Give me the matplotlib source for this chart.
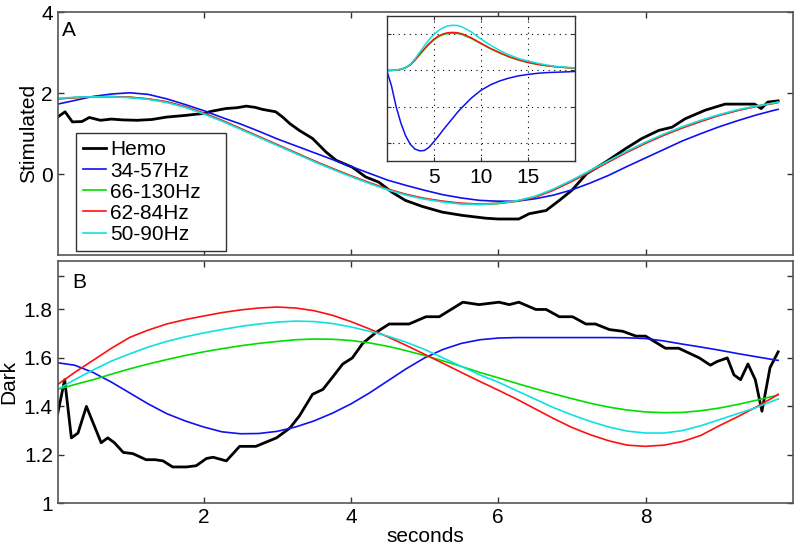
import matplotlib
matplotlib.use('Agg')
import matplotlib.pyplot as plt

plt.rcParams['font.family'] = ['Liberation Sans', 'DejaVu Sans']
plt.rcParams['font.size'] = 15

labels = ['Hemo', '34-57Hz', '66-130Hz', '62-84Hz', '50-90Hz']
colors = ['black', '#1010f0', '#00dd00', '#ff1010', '#10e0e0']

# model time grid (seconds)
t = [0.02, 0.25, 0.5, 0.75, 1.0, 1.25, 1.5, 1.75, 2.0, 2.25, 2.5, 2.75,
     3.0, 3.25, 3.5, 3.75, 4.0, 4.25, 4.5, 4.75, 5.0, 5.25, 5.5, 5.75,
     6.0, 6.25, 6.5, 6.75, 7.0, 7.25, 7.5, 7.75, 8.0, 8.25, 8.5, 8.75,
     9.0, 9.25, 9.5, 9.75, 9.8]

# panel A - stimulated
hemo_a_t = [0.02, 0.12, 0.22, 0.35, 0.45, 0.6, 0.75, 0.9, 1.1, 1.3, 1.5, 1.75,
            2.0, 2.1, 2.3, 2.45, 2.58, 2.7, 2.8, 2.98, 3.08, 3.17, 3.3, 3.48,
            3.66, 3.8, 4.02, 4.2, 4.38, 4.56, 4.74, 4.97, 5.24, 5.51, 5.83,
            6.0, 6.28, 6.42, 6.65, 6.83, 7.0, 7.2, 7.46, 7.73, 7.95, 8.18,
            8.36, 8.54, 8.81, 9.08, 9.35, 9.48, 9.57, 9.66, 9.8]
hemo_a = [1.41, 1.54, 1.29, 1.30, 1.40, 1.33, 1.36, 1.34, 1.33, 1.35, 1.41, 1.45,
          1.50, 1.55, 1.62, 1.64, 1.68, 1.65, 1.60, 1.54, 1.40, 1.25, 1.08, 0.88,
          0.55, 0.34, 0.17, -0.07, -0.20, -0.45, -0.65, -0.80, -0.94, -1.02, -1.09,
          -1.11, -1.11, -0.98, -0.90, -0.65, -0.40, 0.01, 0.30, 0.63, 0.88, 1.08,
          1.16, 1.37, 1.58, 1.73, 1.73, 1.73, 1.62, 1.78, 1.81]
blue_a = [1.73, 1.82, 1.92, 1.98, 2.01, 1.97, 1.86, 1.72, 1.57, 1.40, 1.24, 1.06,
          0.87, 0.70, 0.53, 0.36, 0.19, 0.02, -0.15, -0.28, -0.40, -0.51, -0.59, -0.65,
          -0.67, -0.67, -0.61, -0.52, -0.39, -0.22, -0.03, 0.19, 0.40, 0.61, 0.82, 1.00,
          1.17, 1.32, 1.46, 1.58, 1.60]
green_a = [1.86, 1.89, 1.91, 1.915, 1.90, 1.855, 1.78, 1.66, 1.50, 1.32, 1.12, 0.92,
           0.72, 0.52, 0.32, 0.13, -0.05, -0.22, -0.38, -0.51, -0.61, -0.68, -0.73, -0.75,
           -0.73, -0.67, -0.56, -0.38, -0.16, 0.08, 0.32, 0.56, 0.78, 0.98, 1.16, 1.32,
           1.46, 1.58, 1.68, 1.76, 1.78]
red_a = [1.86, 1.89, 1.91, 1.915, 1.90, 1.86, 1.79, 1.67, 1.51, 1.33, 1.13, 0.93,
         0.73, 0.53, 0.33, 0.14, -0.04, -0.21, -0.37, -0.50, -0.60, -0.67, -0.72, -0.74,
         -0.72, -0.67, -0.57, -0.40, -0.18, 0.06, 0.30, 0.54, 0.76, 0.96, 1.14, 1.30,
         1.45, 1.57, 1.67, 1.75, 1.77]
cyan_a = [1.87, 1.90, 1.91, 1.91, 1.89, 1.85, 1.77, 1.65, 1.49, 1.31, 1.11, 0.91,
          0.71, 0.51, 0.31, 0.12, -0.06, -0.23, -0.39, -0.52, -0.62, -0.69, -0.74, -0.75,
          -0.72, -0.66, -0.55, -0.37, -0.15, 0.09, 0.33, 0.57, 0.79, 0.99, 1.17, 1.33,
          1.47, 1.59, 1.68, 1.76, 1.78]

# panel B - dark
hemo_b_t = [0.02, 0.115, 0.206, 0.296, 0.41, 0.61, 0.70, 0.79, 0.91, 1.04, 1.22,
            1.34, 1.45, 1.58, 1.77, 1.90, 2.04, 2.13, 2.31, 2.49, 2.71, 2.99,
            3.17, 3.30, 3.48, 3.62, 3.75, 3.89, 4.02, 4.16, 4.34, 4.52, 4.66,
            4.79, 5.02, 5.20, 5.52, 5.74, 6.01, 6.15, 6.28, 6.51, 6.65, 6.83,
            7.01, 7.19, 7.32, 7.51, 7.69, 7.87, 8.00, 8.27, 8.45, 8.73, 8.88,
            8.97, 9.11, 9.20, 9.29, 9.39, 9.49, 9.58, 9.69, 9.80]
hemo_b = [1.37, 1.51, 1.27, 1.29, 1.40, 1.25, 1.27, 1.25, 1.21, 1.205, 1.18,
          1.18, 1.175, 1.15, 1.15, 1.155, 1.185, 1.19, 1.175, 1.235, 1.235, 1.27,
          1.31, 1.36, 1.45, 1.47, 1.52, 1.575, 1.60, 1.66, 1.705, 1.74, 1.74,
          1.74, 1.77, 1.77, 1.83, 1.82, 1.83, 1.82, 1.83, 1.80, 1.80, 1.77,
          1.77, 1.74, 1.74, 1.717, 1.71, 1.69, 1.69, 1.64, 1.64, 1.60, 1.57,
          1.585, 1.60, 1.53, 1.51, 1.575, 1.51, 1.38, 1.56, 1.625]
blue_b = [1.58, 1.57, 1.54, 1.50, 1.455, 1.41, 1.37, 1.34, 1.315, 1.295, 1.287, 1.288,
          1.297, 1.315, 1.34, 1.372, 1.41, 1.455, 1.505, 1.555, 1.60, 1.635, 1.66, 1.675,
          1.682, 1.684, 1.684, 1.684, 1.684, 1.684, 1.684, 1.683, 1.68, 1.67, 1.657, 1.645,
          1.632, 1.618, 1.605, 1.592, 1.59]
green_b = [1.47, 1.49, 1.51, 1.533, 1.555, 1.575, 1.593, 1.61, 1.625, 1.638, 1.65, 1.66,
           1.668, 1.675, 1.678, 1.677, 1.672, 1.662, 1.648, 1.63, 1.61, 1.588, 1.565, 1.54,
           1.518, 1.495, 1.473, 1.452, 1.432, 1.413, 1.397, 1.385, 1.377, 1.374, 1.375, 1.382,
           1.393, 1.408, 1.425, 1.443, 1.447]
red_b = [1.49, 1.54, 1.59, 1.64, 1.685, 1.715, 1.74, 1.758, 1.773, 1.787, 1.798, 1.806,
         1.81, 1.806, 1.795, 1.776, 1.750, 1.72, 1.687, 1.652, 1.615, 1.578, 1.54, 1.503,
         1.467, 1.43, 1.39, 1.35, 1.313, 1.283, 1.258, 1.24, 1.235, 1.24, 1.255, 1.28,
         1.32, 1.357, 1.397, 1.44, 1.45]
cyan_b = [1.47, 1.51, 1.55, 1.587, 1.617, 1.645, 1.668, 1.687, 1.703, 1.717, 1.73, 1.74,
          1.748, 1.752, 1.75, 1.742, 1.728, 1.71, 1.69, 1.665, 1.635, 1.60, 1.565, 1.53,
          1.50, 1.465, 1.43, 1.395, 1.365, 1.338, 1.315, 1.298, 1.29, 1.29, 1.30, 1.32,
          1.345, 1.37, 1.395, 1.425, 1.43]

# inset - kernels
k_t = [0, 0.5, 1, 1.5, 2, 2.5, 3, 3.5, 4, 4.5, 5, 5.5, 6, 6.5, 7, 7.5, 8,
       9, 10, 11, 12, 13, 14, 15, 16, 17, 18, 19, 20]
blue_k = [0, -0.42, -1.00, -1.45, -1.80, -2.04, -2.17, -2.22, -2.21, -2.12, -1.97,
          -1.81, -1.64, -1.48, -1.32, -1.16, -1.02, -0.76, -0.55, -0.40, -0.29,
          -0.21, -0.15, -0.11, -0.08, -0.06, -0.05, -0.04, -0.03]
green_k = [0, 0, 0.01, 0.03, 0.07, 0.15, 0.28, 0.43, 0.58, 0.72, 0.84, 0.93, 0.99,
           1.02, 1.03, 1.02, 0.99, 0.88, 0.74, 0.60, 0.48, 0.37, 0.29, 0.22, 0.17,
           0.13, 0.10, 0.08, 0.06]
red_k = [0, 0, 0.01, 0.03, 0.08, 0.16, 0.29, 0.45, 0.60, 0.74, 0.86, 0.95, 1.01,
         1.04, 1.05, 1.04, 1.01, 0.90, 0.75, 0.61, 0.49, 0.38, 0.29, 0.22, 0.17,
         0.13, 0.10, 0.08, 0.06]
cyan_k = [0, 0, 0.01, 0.03, 0.08, 0.17, 0.32, 0.50, 0.68, 0.85, 0.99, 1.10, 1.18,
          1.23, 1.245, 1.24, 1.20, 1.06, 0.87, 0.70, 0.55, 0.43, 0.33, 0.26, 0.20,
          0.15, 0.11, 0.09, 0.07]

fig = plt.figure(figsize=(8, 5.51), dpi=100)
ax_a = fig.add_axes([0.0721, 0.5372, 0.919, 0.4405])
ax_b = fig.add_axes([0.0721, 0.0866, 0.919, 0.4397])

for ax in (ax_a, ax_b):
    ax.tick_params(direction='in', top=True, right=True, length=4, width=1,
                   color='#333333')
    for s in ax.spines.values():
        s.set_color('#555555')
        s.set_linewidth(1.2)
    ax.set_xlim(0.02, 10)
    ax.set_xticks([2, 4, 6, 8])

ax_a.plot(hemo_a_t, hemo_a, color=colors[0], lw=2, label=labels[0])
for y, c, l in zip([blue_a, green_a, red_a, cyan_a], colors[1:], labels[1:]):
    ax_a.plot(t, y, color=c, lw=1.2, label=l)
ax_a.set_ylim(-2, 4)
ax_a.set_yticks([0, 2, 4])
ax_a.set_xticklabels([])
ax_a.set_ylabel('Stimulated', labelpad=2)
ax_a.text(0.006, 0.965, 'A', transform=ax_a.transAxes, va='top', ha='left')
leg = ax_a.legend(loc='lower left', bbox_to_anchor=(0.025, 0.016, 0.204, 0.499),
                  mode='expand', borderaxespad=0, fancybox=False, framealpha=1,
                  handlelength=1.1, handletextpad=0.2, labelspacing=0.1,
                  borderpad=0.35, fontsize=15)
leg.get_frame().set_edgecolor('#333333')
leg.get_frame().set_linewidth(1)

ax_b.plot(hemo_b_t, hemo_b, color=colors[0], lw=2)
for y, c in zip([blue_b, green_b, red_b, cyan_b], colors[1:]):
    ax_b.plot(t, y, color=c, lw=1.2)
ax_b.set_ylim(1, 2)
ax_b.set_yticks([1, 1.2, 1.4, 1.6, 1.8])
ax_b.set_yticklabels(['1', '1.2', '1.4', '1.6', '1.8'])
ax_b.set_yticks([1.94], minor=True)
ax_b.tick_params(which='minor', direction='in', right=True, length=4, width=1,
                 color='#333333')
ax_b.set_xlabel('seconds', labelpad=0)
ax_b.set_ylabel('Dark', labelpad=4)
ax_b.text(0.0204, 0.949, 'B', transform=ax_b.transAxes, va='top', ha='left')

# inset kernels
ax_in = fig.add_axes([0.4834, 0.7078, 0.2354, 0.263])
for y, c in zip([blue_k, green_k, red_k, cyan_k], colors[1:]):
    ax_in.plot(k_t, y, color=c, lw=1.1)
ax_in.set_xlim(0, 20)
ax_in.set_ylim(-2.5, 1.5)
ax_in.set_xticks([5, 10, 15])
ax_in.set_yticks([-2, -1, 0, 1])
ax_in.set_yticklabels([])
ax_in.grid(True, linestyle=(0, (1, 4)), color='black', lw=0.8)
ax_in.tick_params(direction='in', top=True, right=True, length=3,
                  color='#333333', pad=5)
for s in ax_in.spines.values():
    s.set_color('#333333')
    s.set_linewidth(1)

fig.savefig('out.png', dpi=100)
